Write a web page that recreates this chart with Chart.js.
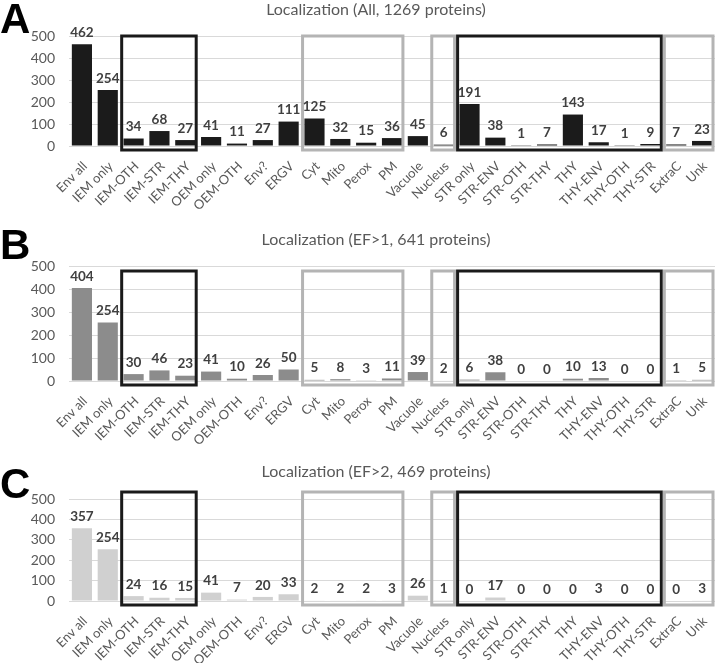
<!DOCTYPE html>
<html lang="en">
<head>
<meta charset="UTF-8">
<title>localization</title>
<script src="https://cdn.jsdelivr.net/npm/chart.js"></script>
<style>
  body { margin: 0; background: #fff; overflow: hidden; }
  .panel { position: absolute; left: 0; width: 720px; }
</style>
</head>
<body>
<div class="panel" id="pA" style="top:0px;height:212px"><canvas id="chartA"></canvas></div>
<div class="panel" id="pB" style="top:212px;height:234px"><canvas id="chartB"></canvas></div>
<div class="panel" id="pC" style="top:446px;height:217px"><canvas id="chartC"></canvas></div>
<script>
const categories = ['Env all', 'IEM only', 'IEM-OTH', 'IEM-STR', 'IEM-THY', 'OEM only', 'OEM-OTH', 'Env?', 'ERGV',
  'Cyt', 'Mito', 'Perox', 'PM', 'Vacuole', 'Nucleus', 'STR only', 'STR-ENV', 'STR-OTH', 'STR-THY',
  'THY', 'THY-ENV', 'THY-OTH', 'THY-STR', 'ExtraC', 'Unk'];

const countsAll = [462, 254, 34, 68, 27, 41, 11, 27, 111, 125, 32, 15, 36, 45, 6, 191, 38, 1, 7, 143, 17, 1, 9, 7, 23];
const countsEF1 = [404, 254, 30, 46, 23, 41, 10, 26, 50, 5, 8, 3, 11, 39, 2, 6, 38, 0, 0, 10, 13, 0, 0, 1, 5];
const countsEF2 = [357, 254, 24, 16, 15, 41, 7, 20, 33, 2, 2, 2, 3, 26, 1, 0, 17, 0, 0, 0, 3, 0, 0, 0, 3];

const titles = ['Localization (All, 1269 proteins)', 'Localization (EF>1, 641 proteins)', 'Localization (EF>2, 469 proteins)'];
const letters = ['A', 'B', 'C'];
const yTicks = [0, 100, 200, 300, 400, 500];

// boxed groups: first and last category index, dark or light frame
const groups = [
  { from: 2, to: 4, dark: true },
  { from: 9, to: 12, dark: false },
  { from: 14, to: 14, dark: false },
  { from: 15, to: 22, dark: true },
  { from: 23, to: 24, dark: false }
];

const FONT = 'Lato, "Open Sans", sans-serif';

// per panel layout tweaks (px inside each canvas)
const panels = [
  { id: 'chartA', data: countsAll, color: '#1b1b1b', padTop: 36, xHeight: 66, titleY: 10, boxTop: 0, letterY: 33 },
  { id: 'chartB', data: countsEF1, color: '#8c8c8c', padTop: 54, xHeight: 65, titleY: 28, boxTop: 5, letterY: 47 },
  { id: 'chartC', data: countsEF2, color: '#d0d0d0', padTop: 53, xHeight: 62, titleY: 26, boxTop: -7, letterY: 52 }
];

const extras = {
  id: 'extras',
  afterDatasetsDraw(chart, args, opts) {
    const ctx = chart.ctx;
    const x = chart.scales.x, y = chart.scales.y;
    const half = (x.getPixelForValue(1) - x.getPixelForValue(0)) / 2;
    const zero = y.getPixelForValue(0);
    ctx.save();
    // group frames
    ctx.lineWidth = 3;
    groups.forEach(g => {
      ctx.strokeStyle = g.dark ? '#1a1a1a' : '#b4b4b4';
      const left = x.getPixelForValue(g.from) - half + 1;
      const right = x.getPixelForValue(g.to) + half - 2;
      const top = y.getPixelForValue(500) + opts.boxTop;
      ctx.strokeRect(left, top, right - left, zero + 4 - top);
    });
    // value labels
    ctx.fillStyle = '#404040';
    ctx.font = 'bold 13.5px ' + FONT;
    ctx.textAlign = 'center';
    ctx.textBaseline = 'bottom';
    chart.getDatasetMeta(0).data.forEach((bar, i) => {
      ctx.fillText(chart.data.datasets[0].data[i], bar.x, bar.y - 5);
    });
    // category labels, rotated 45deg, placed at the x scale's tick positions
    ctx.fillStyle = '#595959';
    ctx.font = '13px ' + FONT;
    ctx.textAlign = 'right';
    ctx.textBaseline = 'middle';
    chart.data.labels.forEach((lab, i) => {
      ctx.save();
      ctx.translate(x.getPixelForValue(i) + 3, zero + 18);
      ctx.rotate(-Math.PI / 4);
      ctx.fillText(lab, 0, 0);
      ctx.restore();
    });
    // title
    ctx.textAlign = 'center';
    ctx.font = '16px ' + FONT;
    ctx.fillText(opts.title, 376, opts.titleY);
    // panel letter
    ctx.fillStyle = '#000';
    ctx.font = 'bold 42px "Liberation Sans", Arial, sans-serif';
    ctx.textAlign = 'left';
    ctx.textBaseline = 'alphabetic';
    ctx.fillText(opts.letter, 0, opts.letterY);
    ctx.restore();
  }
};

panels.forEach((p, k) => {
  const ctx = document.getElementById(p.id).getContext('2d');
  new Chart(ctx, {
    type: 'bar',
    data: {
      labels: categories,
      datasets: [{
        data: p.data,
        backgroundColor: p.color,
        barPercentage: 0.78,
        categoryPercentage: 1
      }]
    },
    options: {
      responsive: true,
      maintainAspectRatio: false,
      animation: false,
      layout: { padding: { left: 0, right: 5, top: p.padTop, bottom: 0 } },
      plugins: {
        legend: { display: false },
        tooltip: { enabled: false },
        title: { display: false },
        extras: { letter: letters[k], letterY: p.letterY, boxTop: p.boxTop, title: titles[k], titleY: p.titleY }
      },
      scales: {
        x: {
          grid: { display: false },
          border: { display: false },
          ticks: { display: false },
          afterFit: s => { s.height = p.xHeight; s.paddingLeft = 0; s.paddingRight = 0; }
        },
        y: {
          min: 0,
          max: 500,
          grid: { color: '#d9d9d9', drawTicks: false },
          border: { display: false },
          afterBuildTicks: s => { s.ticks = yTicks.map(v => ({ value: v })); },
          ticks: {
            color: '#595959',
            font: { family: FONT, size: 14 },
            padding: 14,
            autoSkip: false
          },
          afterFit: s => { s.width = 69; }
        }
      }
    },
    plugins: [extras]
  });
});
</script>
</body>
</html>
